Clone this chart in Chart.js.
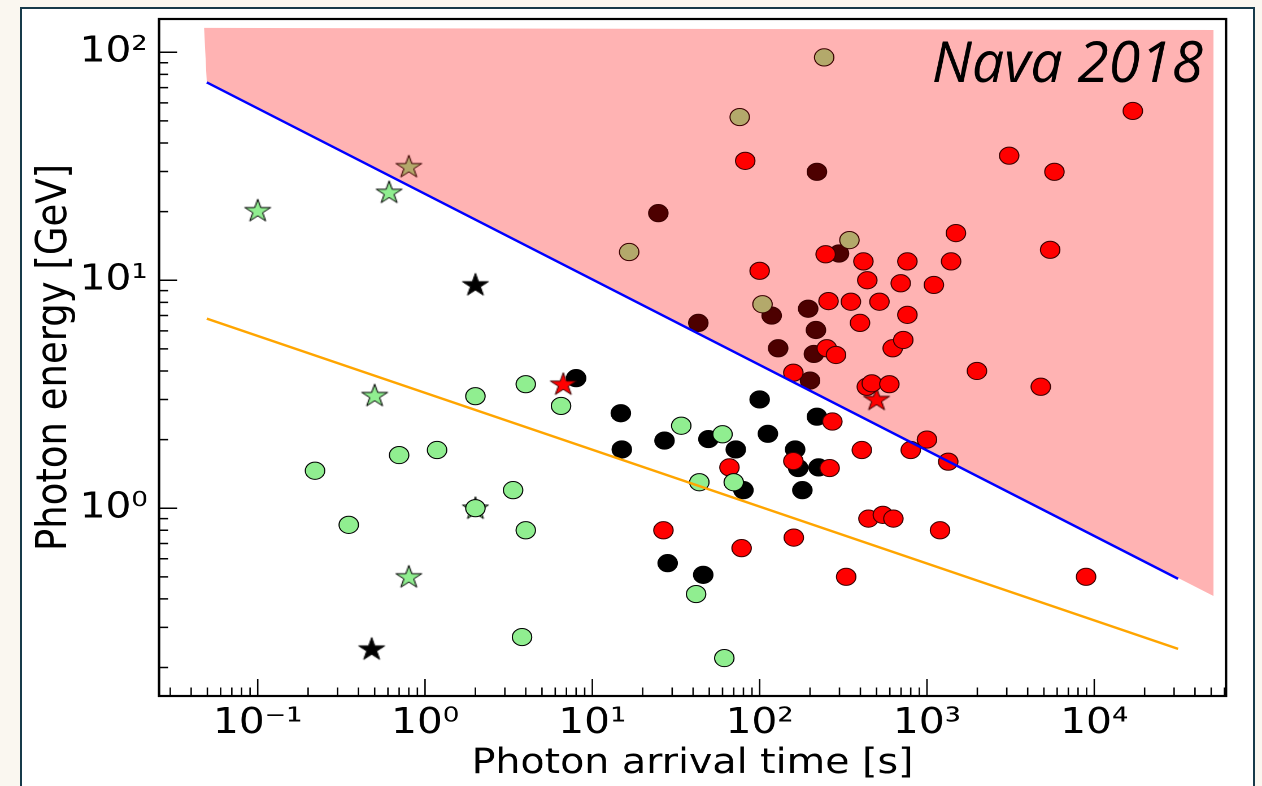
<!DOCTYPE html>
<html><head><meta charset="utf-8">
<script src="https://cdn.jsdelivr.net/npm/chart.js@4.4.1/dist/chart.umd.min.js"></script>
<style>
html,body{margin:0;padding:0;background:#faf7f0;width:1262px;height:786px;overflow:hidden;}
#card{position:absolute;left:20px;top:7px;width:1231px;height:900px;border:2.5px solid #173a4a;background:#fff;}
#wrap{position:absolute;left:0;top:0;width:1117px;height:786px;transform:scaleX(1.129811);transform-origin:0 0;}
</style></head><body>
<div id="card"></div>
<div id="wrap"><canvas id="c" width="1117" height="786"></canvas></div>
<script>
// ---- data (x: photon arrival time [s], y: photon energy [GeV]) ----
const greenCircles = [[0.22,1.46],[0.35,0.845],[0.70,1.71],[1.18,1.80],[2.0,3.1],[2.0,1.0],[3.36,1.20],[4.0,3.5],[4.0,0.80],[3.8,0.272],[6.5,2.81],[34,2.3],[60,2.11],[43.6,1.30],[70,1.30],[41.7,0.42],[61.5,0.22]];
const greenStars = [[0.1,20.2],[0.61,24.3],[0.5,3.12],[0.8,0.5],[2.0,1.0]];
const blackStars = [[2.0,9.55],[0.48,0.241]];
const redStars = [[6.7,3.5],[500,3.0]];
const oliveStars = [[0.8,31.5]];
const oliveCircles = [[243,95],[76,52],[16.6,13.3],[344,15.0],[104,7.85]];
const maroonCircles = [[24.8,19.7],[220,29.9],[43,6.5],[118,7.0],[298,13.1],[195,7.5],[217,6.05],[129,5.03],[211,4.75],[200,3.63]];
const redCircles = [[82,33.4],[17000,55.3],[3100,35.2],[5780,29.9],[1490,16.1],[5450,13.6],[248,13.0],[417,12.1],[764,12.1],[1394,12.1],[440,10.0],[697,9.7],[1100,9.54],[100,11.0],[258,8.1],[351,8.05],[520,8.05],[764,7.05],[398,6.5],[252,5.03],[286,4.7],[624,5.03],[722,5.47],[159,3.93],[1990,4.0],[4790,3.41],[437,3.41],[468,3.53],[596,3.5],[272,2.40],[408,1.80],[1000,2.0],[800,1.8],[1340,1.60],[262,1.50],[159,1.61],[66,1.51],[447,0.90],[545,0.935],[630,0.90],[1197,0.80],[329,0.50],[8935,0.50],[26.6,0.80],[78,0.668],[160,0.743]];
const blackCircles = [[8.0,3.72],[14.8,2.61],[15,1.81],[27,1.98],[49.4,2.01],[72,1.81],[80,1.20],[100,3.0],[112,2.12],[163,1.81],[170,1.50],[180,1.20],[220,2.52],[225,1.51],[28.2,0.574],[46,0.51]];
const blueLine = [[0.0496,73.8],[31700,0.49]];
const orangeLine = [[0.0496,6.79],[31700,0.2415]];
const fillRegion = [[0.0478,128],[51600,125.3],[51600,0.412],[0.0496,73.8]];
const xRange = [0.0257, 61300];
const yRange = [0.150, 140];
const xMajorTicks = [0.1,1,10,100,1000,10000];
const yMajorTicks = [1,10,100];
const minorMultipliers = [2,3,4,5,6,7,8,9];
const xTitle = 'Photon arrival time [s]';
const yTitle = 'Photon energy [GeV]';
const annotation = 'Nava 2018';

// ---- helpers ----
const S = 1262/1117;
const pts = a => a.map(p => ({x:p[0], y:p[1]}));
function buildTicks(majors, range){
  const out = [];
  const decades = [majors[0]/10].concat(majors);
  decades.forEach(d => {
    [1].concat(minorMultipliers).forEach(m => {
      const v = +(m*d).toPrecision(6);
      if (v >= range[0] && v <= range[1]) out.push(v);
    });
  });
  return out;
}
const xTicks = buildTicks(xMajorTicks, xRange);
const yTicks = buildTicks(yMajorTicks, yRange);
const isMajor = v => Math.abs(Math.log10(v) - Math.round(Math.log10(v))) < 1e-6;
const SUP = {'-':'\u207B','0':'\u2070','1':'\u00B9','2':'\u00B2','3':'\u00B3','4':'\u2074','5':'\u2075','6':'\u2076','7':'\u2077','8':'\u2078','9':'\u2079'};
function fmt(v){
  if (!isMajor(v)) return '';
  const e = String(Math.round(Math.log10(v)));
  return '10' + e.split('').map(ch => SUP[ch]).join('');
}
function starCanvas(fill, stroke){
  const size = 30, c = document.createElement('canvas');
  c.width = size; c.height = size;
  const ctx = c.getContext('2d');
  const R = 12, r = R*0.381966, cx = 15, cy = 15.6;
  ctx.beginPath();
  for (let i = 0; i < 10; i++){
    const a = -Math.PI/2 + i*Math.PI/5, rad = i%2 ? r : R;
    const px = cx + rad*Math.cos(a), py = cy + rad*Math.sin(a);
    i ? ctx.lineTo(px,py) : ctx.moveTo(px,py);
  }
  ctx.closePath();
  ctx.fillStyle = fill; ctx.fill();
  ctx.lineWidth = 1; ctx.strokeStyle = stroke; ctx.stroke();
  return c;
}
const GREEN = '#90ee90', RED = '#ff0000', OLIVE = '#b3a96b', MAROON = '#4d0000', DARK = '#3a0000';

function circles(label, data, fill, edge, order){
  return {label, data: pts(data), showLine:false, order, pointStyle:'circle', pointRadius:8.6, pointHoverRadius:8.6,
    pointBorderWidth:1, pointBackgroundColor:fill, pointBorderColor:edge};
}
function stars(label, data, fill, edge, order){
  return {label, data: pts(data), showLine:false, order, pointStyle: starCanvas(fill, edge), pointRadius:11, pointHoverRadius:11,
    pointBackgroundColor:fill, pointBorderColor:edge};
}

const framePlugin = {
  id:'frame',
  afterDraw(chart){
    const {ctx, chartArea:a, scales:{x, y}} = chart;
    ctx.save();
    ctx.strokeStyle = '#000';
    ctx.lineWidth = 1.3;
    ctx.beginPath();
    xTicks.forEach(v => {
      const px = x.getPixelForValue(v), len = isMajor(v) ? 17 : 8.5;
      ctx.moveTo(px, a.bottom); ctx.lineTo(px, a.bottom - len);
    });
    ctx.stroke();
    ctx.lineWidth = 1.5;
    ctx.beginPath();
    yTicks.forEach(v => {
      const py = y.getPixelForValue(v), len = isMajor(v) ? 16 : 8;
      ctx.moveTo(a.left, py); ctx.lineTo(a.left + len, py);
    });
    ctx.stroke();
    ctx.lineWidth = 2.2;
    ctx.strokeRect(a.left, a.top, a.right - a.left, a.bottom - a.top);
    // annotation text (compensate horizontal stretch)
    ctx.translate(1203/S, 82);
    ctx.scale(1/S, 1);
    ctx.font = 'italic 57px "Open Sans"';
    ctx.textAlign = 'right';
    ctx.textBaseline = 'alphabetic';
    ctx.fillStyle = '#000';
    ctx.fillText(annotation, 0, 0);
    ctx.restore();
  }
};

new Chart(document.getElementById('c'), {
  type:'line',
  data:{datasets:[
    {label:'region', data: pts(fillRegion), showLine:true, fill:'shape', backgroundColor:'#ffb3b3', borderColor:'rgba(0,0,0,0)', borderWidth:1, pointRadius:0, pointHoverRadius:0, order:100, tension:0},
    {label:'blue', data: pts(blueLine), showLine:true, fill:false, borderColor:'#0000ff', borderWidth:2.4, pointRadius:0, pointHoverRadius:0, order:1, tension:0},
    {label:'orange', data: pts(orangeLine), showLine:true, fill:false, borderColor:'#ffa500', borderWidth:2.4, pointRadius:0, pointHoverRadius:0, order:2, tension:0},
    circles('black', blackCircles, '#000000', '#000000', 80),
    stars('blackStar', blackStars, '#000000', '#000000', 75),
    circles('maroon', maroonCircles, MAROON, DARK, 70),
    stars('redStar', redStars, RED, DARK, 65),
    circles('red', redCircles, RED, DARK, 60),
    stars('oliveStar', oliveStars, OLIVE, DARK, 55),
    circles('olive', oliveCircles, OLIVE, DARK, 50),
    stars('greenStar', greenStars, GREEN, '#000000', 45),
    circles('green', greenCircles, GREEN, '#000000', 40)
  ]},
  options:{
    responsive:false, animation:false, devicePixelRatio:2,
    layout:{padding:{top:19, left:0, right:1117 - 1226/S, bottom:0}},
    plugins:{legend:{display:false}, tooltip:{enabled:false}},
    scales:{
      x:{type:'logarithmic', position:'bottom', min:xRange[0], max:xRange[1],
        grid:{display:false, drawTicks:false}, border:{display:false},
        afterBuildTicks: s => { s.ticks = xTicks.map(v => ({value:v})); },
        afterFit: s => { s.height = 90; s.paddingLeft = 0; s.paddingRight = 0; },
        ticks:{autoSkip:false, maxRotation:0, minRotation:0, padding:6, color:'#000', font:{family:'DejaVu Sans', size:36}, callback: v => fmt(v)},
        title:{display:true, text:xTitle, color:'#000', font:{family:'DejaVu Sans', size:35}, padding:{top:0, bottom:1}}
      },
      y:{type:'logarithmic', position:'left', min:yRange[0], max:yRange[1],
        grid:{display:false, drawTicks:false}, border:{display:false},
        afterBuildTicks: s => { s.ticks = yTicks.map(v => ({value:v})); },
        afterFit: s => { s.width = 159/S; s.paddingTop = 0; s.paddingBottom = 0; },
        ticks:{autoSkip:false, padding:10, color:'#000', font:{family:'DejaVu Sans', size:36}, callback: v => fmt(v)},
        title:{display:true, text:yTitle, color:'#000', font:{family:'DejaVu Sans', size:37}, padding:{top:26.5, bottom:0}}
      }
    }
  },
  plugins:[framePlugin]
});
</script>
</body></html>
